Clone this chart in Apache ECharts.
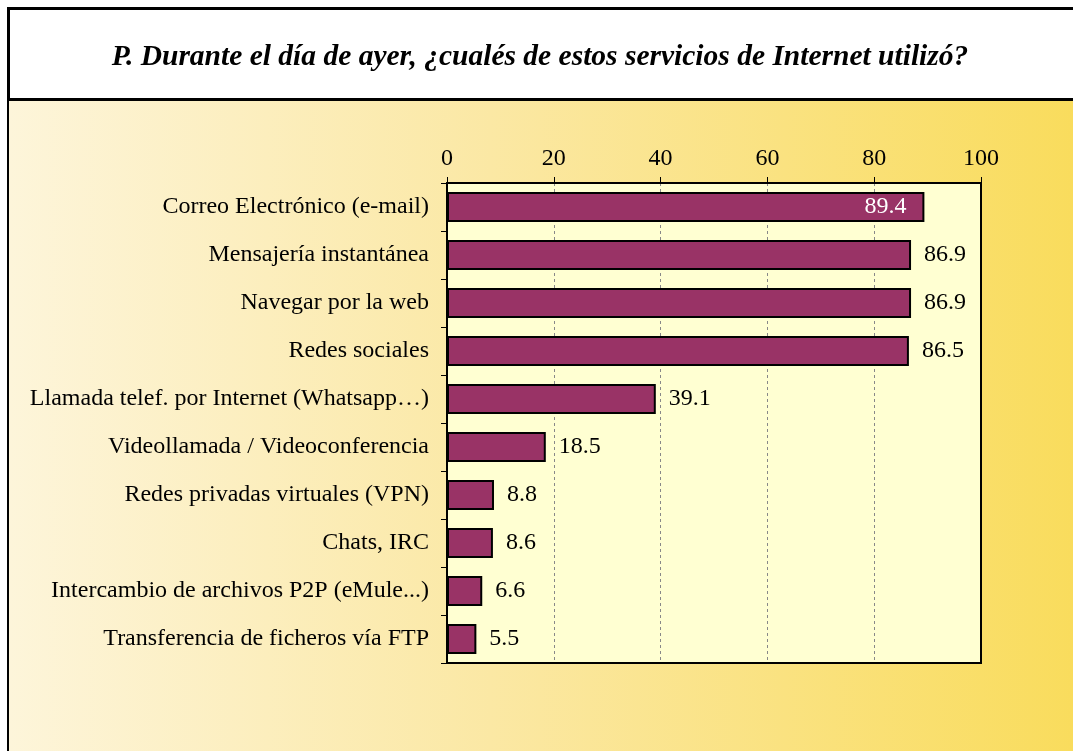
<!DOCTYPE html>
<html>
<head>
<meta charset="utf-8">
<script src="https://cdn.jsdelivr.net/npm/echarts@6/dist/echarts.min.js"></script>
<style>
  html, body { margin: 0; padding: 0; background: #fff; }
  #chart { width: 1073px; height: 751px; }
</style>
</head>
<body>
<div id="chart"></div>
<script>
const titleText = 'P. Durante el día de ayer, ¿cualés de estos servicios de Internet utilizó?'
const categories = [
  'Correo Electrónico (e-mail)',
  'Mensajería instantánea',
  'Navegar por la web',
  'Redes sociales',
  'Llamada telef. por Internet (Whatsapp…)',
  'Videollamada / Videoconferencia',
  'Redes privadas virtuales (VPN)',
  'Chats, IRC',
  'Intercambio de archivos P2P (eMule...)',
  'Transferencia de ficheros vía FTP'
]
const values = [89.4, 86.9, 86.9, 86.5, 39.1, 18.5, 8.8, 8.6, 6.6, 5.5]

const serif = '"Liberation Serif", "Times New Roman", serif'
const chart = echarts.init(document.getElementById('chart'))

const barData = values.map((v, i) => {
  if (i === 0) {
    // first bar carries its label inside, in white
    return { value: v, label: { position: 'insideRight', color: '#fff', distance: 18 } }
  }
  return v
})

chart.setOption({
  backgroundColor: '#fff',
  animation: false,
  title: {
    text: titleText,
    left: 535,
    textAlign: 'center',
    top: 37,
    textStyle: {
      fontFamily: serif,
      fontStyle: 'italic',
      fontWeight: 'bold',
      fontSize: 29.5,
      color: '#000'
    }
  },
  graphic: [
    {
      type: 'rect',
      z: -10,
      shape: { x: 9, y: 100, width: 1070, height: 660 },
      style: {
        fill: {
          type: 'linear', x: 0, y: 0, x2: 1, y2: 0,
          colorStops: [
            { offset: 0, color: '#fdf5da' },
            { offset: 0.45, color: '#fbe8a4' },
            { offset: 1, color: '#f9dc5c' }
          ]
        }
      }
    },
    {
      type: 'rect',
      z: -9,
      shape: { x: 8.5, y: 8.5, width: 1080, height: 91 },
      style: { fill: '#fff', stroke: '#000', lineWidth: 3 }
    },
    {
      type: 'line',
      z: -8,
      shape: { x1: 8, y1: 8, x2: 8, y2: 760 },
      style: { stroke: '#000', lineWidth: 2 }
    }
  ],
  grid: {
    left: 447,
    right: 92,
    top: 183,
    bottom: 88,
    show: true,
    backgroundColor: '#ffffd2',
    borderColor: '#000',
    borderWidth: 2,
    containLabel: false
  },
  xAxis: {
    type: 'value',
    position: 'top',
    min: 0,
    max: 100,
    interval: 20,
    axisLine: { show: true, lineStyle: { color: '#000', width: 2 } },
    axisTick: { show: true, length: 6, lineStyle: { color: '#000' } },
    axisLabel: { color: '#000', fontFamily: serif, fontSize: 24, margin: 12 },
    splitLine: {
      show: true,
      showMinLine: false,
      showMaxLine: false,
      lineStyle: { color: '#888', type: [3, 3], width: 1 }
    }
  },
  yAxis: {
    type: 'category',
    data: categories,
    inverse: true,
    axisLine: { show: true, lineStyle: { color: '#000', width: 2 } },
    axisTick: { show: true, length: 6, lineStyle: { color: '#000' } },
    axisLabel: { color: '#000', fontFamily: serif, fontSize: 24, margin: 18 },
    splitLine: { show: false }
  },
  series: [
    {
      type: 'bar',
      data: barData,
      barWidth: 30,
      itemStyle: { color: '#993366', borderColor: '#000', borderWidth: 2 },
      label: {
        show: true,
        position: 'right',
        distance: 13,
        color: '#000',
        fontFamily: serif,
        fontSize: 24,
        formatter: p => p.value.toFixed(1)
      }
    }
  ]
})
</script>
</body>
</html>
